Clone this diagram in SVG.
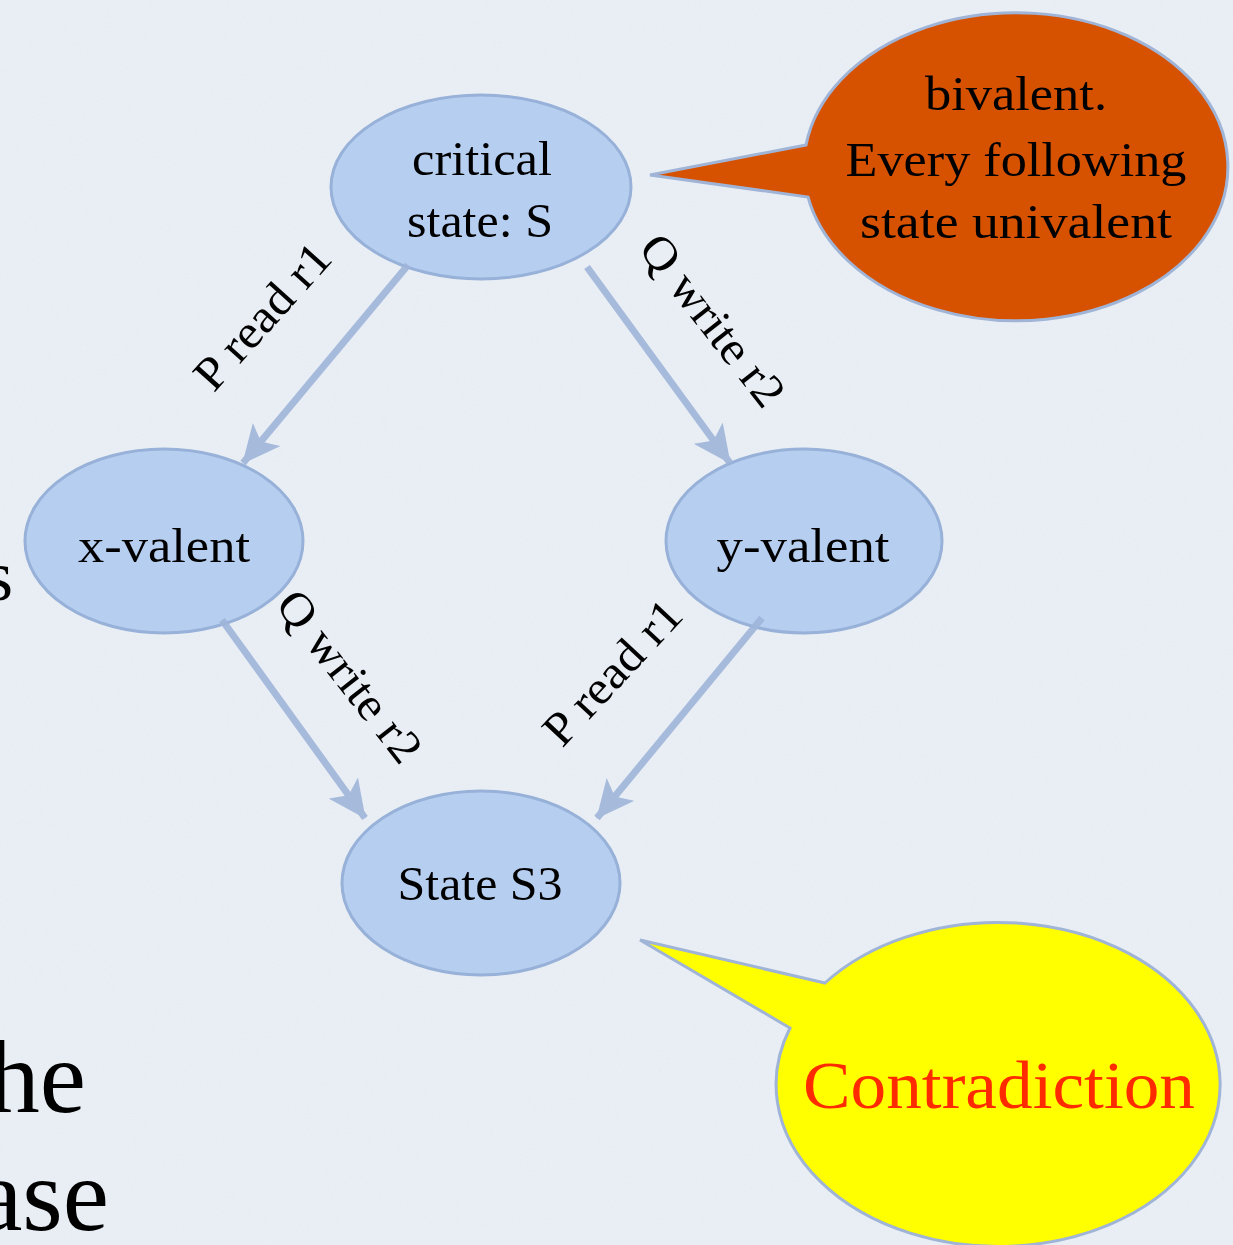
<svg xmlns="http://www.w3.org/2000/svg" width="1233" height="1245" viewBox="0 0 1233 1245">
  <defs>
    <style>
      .bg { fill: #e6ecf3; }
      .node { fill: #b6cff1; stroke: #97b1d8; stroke-width: 3; }
      .txt { font-family: "Liberation Serif", "Times New Roman", serif; fill: #000; }
      .red { fill: #ff2a00; }
      .nodetxt { font-size: 49px; text-anchor: middle; }
      .lbl { font-size: 47px; text-anchor: middle; }
      .edge { stroke: #9fb5da; stroke-width: 7; fill: none; marker-end: url(#arrow); }
      .callout { stroke: #9fb4d6; stroke-width: 3; }
      .bgtxt { font-size: 104px; text-anchor: end; }
    </style>
    <marker id="arrow" viewBox="0 0 38 36" refX="37" refY="18" markerWidth="38" markerHeight="36" markerUnits="userSpaceOnUse" orient="auto">
      <path d="M0,0 L38,18 L0,36 L9,18 Z" fill="#9fb5da"/>
    </marker>
    <filter id="paper" x="0" y="0" width="100%" height="100%">
      <feTurbulence type="fractalNoise" baseFrequency="0.9" numOctaves="2" seed="3" result="n"/>
      <feColorMatrix type="matrix" values="0 0 0 0 1  0 0 0 0 1  0 0 0 0 1  0 0 0 -1.2 1" />
    </filter>
  </defs>

  <rect class="bg" x="0" y="0" width="1233" height="1245"/>
  <rect x="0" y="0" width="1233" height="1245" filter="url(#paper)" opacity="0.25"/>

  <!-- background slide text fragments -->
  <g id="slide-text">
    <text class="txt" x="13" y="600" font-size="72" text-anchor="end">s</text>
    <text class="txt bgtxt" x="86" y="1112">he</text>
    <text class="txt bgtxt" x="109" y="1230">ase</text>
  </g>

  <g id="node-critical">
    <ellipse class="node" cx="481" cy="187" rx="150" ry="92"/>
    <text class="txt nodetxt" x="482" y="175" textLength="140" lengthAdjust="spacingAndGlyphs">critical</text>
    <text class="txt nodetxt" x="480" y="237" textLength="146" lengthAdjust="spacingAndGlyphs">state: S</text>
  </g>

  <g id="node-x-valent">
    <ellipse class="node" cx="164" cy="541" rx="139" ry="92"/>
    <text class="txt nodetxt" x="164" y="562" textLength="172" lengthAdjust="spacingAndGlyphs">x-valent</text>
  </g>

  <g id="node-y-valent">
    <ellipse class="node" cx="804" cy="541" rx="138" ry="92"/>
    <text class="txt nodetxt" x="803" y="562" textLength="173" lengthAdjust="spacingAndGlyphs">y-valent</text>
  </g>

  <g id="node-s3">
    <ellipse class="node" cx="481" cy="883" rx="139" ry="92"/>
    <text class="txt nodetxt" x="480" y="900" textLength="165" lengthAdjust="spacingAndGlyphs">State S3</text>
  </g>

  <g id="callout-bivalent">
    <path class="callout" fill="#d65200" d="M806,145 L650,175 L808,197 A212 154 0 1 0 806,145 Z"/>
    <text class="txt nodetxt" x="1016" y="110" font-size="48" textLength="182" lengthAdjust="spacingAndGlyphs">bivalent.</text>
    <text class="txt nodetxt" x="1016" y="176" font-size="48" textLength="341" lengthAdjust="spacingAndGlyphs">Every following</text>
    <text class="txt nodetxt" x="1016" y="238" font-size="48" textLength="312" lengthAdjust="spacingAndGlyphs">state univalent</text>
  </g>

  <g id="callout-contradiction">
    <path class="callout" fill="#ffff00" d="M825,983 L640,940 L790,1028 A222 162 0 1 0 825,983 Z"/>
    <text class="txt red" x="999" y="1108" font-size="68" text-anchor="middle" textLength="392" lengthAdjust="spacingAndGlyphs">Contradiction</text>
  </g>

  <g id="connectors" opacity="0.9">
    <line class="edge" x1="408" y1="265" x2="243" y2="463"/>
    <line class="edge" x1="587" y1="267" x2="730" y2="463"/>
    <line class="edge" x1="222" y1="620" x2="365" y2="818"/>
    <line class="edge" x1="762" y1="618" x2="597" y2="818"/>
  </g>

  <g id="edge-labels">
    <g transform="translate(262,316) rotate(-48)">
      <text class="txt lbl" x="0" y="16" textLength="180" lengthAdjust="spacingAndGlyphs">P read r1</text>
    </g>
    <g transform="translate(713,320) rotate(52)">
      <text class="txt lbl" x="0" y="16" textLength="205" lengthAdjust="spacingAndGlyphs">Q write r2</text>
    </g>
    <g transform="translate(350,676) rotate(52)">
      <text class="txt lbl" x="0" y="16" textLength="205" lengthAdjust="spacingAndGlyphs">Q write r2</text>
    </g>
    <g transform="translate(612,672) rotate(-47)">
      <text class="txt lbl" x="0" y="16" textLength="180" lengthAdjust="spacingAndGlyphs">P read r1</text>
    </g>
  </g>
</svg>
